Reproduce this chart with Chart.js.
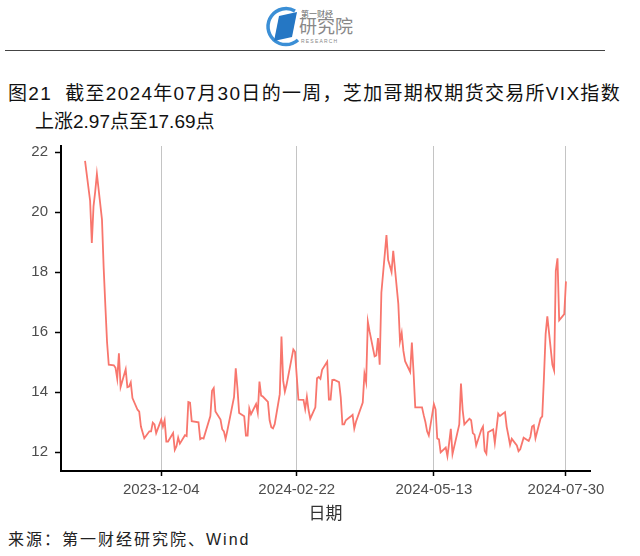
<!DOCTYPE html>
<html>
<head>
<meta charset="utf-8">
<script src="https://cdn.jsdelivr.net/npm/chart.js@4"></script>
<style>
  body { margin: 0; width: 640px; height: 556px; background: #fff; position: relative; overflow: hidden;
         font-family: "Liberation Sans", "Noto Sans CJK SC", sans-serif; }
  .abs { position: absolute; white-space: nowrap; }
  #rule { left: 5px; top: 50px; width: 600px; height: 0; border-top: 1.5px solid #444; }
  .title { font-size: 19px; color: #111; line-height: 24px; }
  #src { left: 8px; top: 530px; font-size: 16px; color: #222; letter-spacing: 2px; line-height: 20px; }
  #chartBox { left: 0; top: 130px; width: 640px; height: 400px; }
</style>
</head>
<body>
<div class="abs" style="left:264px;top:5px;">
  <svg width="40" height="44" viewBox="0 0 40 44">
    <path d="M31 6 A18 18 0 1 0 34 35" fill="none" stroke="#3b8fd6" stroke-width="3.5"/>
    <path d="M15 11 L33 7 L28 32 L10 36 Z" fill="#2577c4"/>
  </svg>
</div>
<div class="abs" style="left:301px;top:8px;font-size:8px;color:#666;">第一财经</div>
<div class="abs" style="left:299px;top:17px;font-size:18px;color:#888;line-height:20px;">研究院</div>
<div class="abs" style="left:301px;top:38px;font-size:5px;color:#888;letter-spacing:1.2px;">RESEARCH</div>
<div id="rule" class="abs"></div>
<div class="abs title" style="left:8px;top:82px;letter-spacing:1.3px;">图21&nbsp;&nbsp;截至2024年07月30日的一周，芝加哥期权期货交易所VIX指数</div>
<div class="abs title" style="left:35px;top:110px;">上涨2.97点至17.69点</div>
<div id="chartBox" class="abs"><canvas id="c" width="640" height="400"></canvas></div>
<div id="src" class="abs">来源：第一财经研究院、Wind</div>
<script>
const dates = [
  '2023-10-20','2023-10-23','2023-10-24','2023-10-25','2023-10-26','2023-10-27','2023-10-30','2023-10-31',
  '2023-11-01','2023-11-02','2023-11-03','2023-11-06','2023-11-07','2023-11-08','2023-11-09','2023-11-10',
  '2023-11-13','2023-11-14','2023-11-15','2023-11-16','2023-11-17','2023-11-20','2023-11-21','2023-11-22',
  '2023-11-24','2023-11-27','2023-11-28','2023-11-29','2023-11-30','2023-12-01','2023-12-04','2023-12-05',
  '2023-12-06','2023-12-07','2023-12-08','2023-12-11','2023-12-12','2023-12-13','2023-12-14','2023-12-15',
  '2023-12-18','2023-12-19','2023-12-20','2023-12-21','2023-12-22','2023-12-26','2023-12-27','2023-12-28',
  '2023-12-29','2024-01-02','2024-01-03','2024-01-04','2024-01-05','2024-01-08','2024-01-09','2024-01-10',
  '2024-01-11','2024-01-12','2024-01-16','2024-01-17','2024-01-18','2024-01-19','2024-01-22','2024-01-23',
  '2024-01-24','2024-01-25','2024-01-26','2024-01-29','2024-01-30','2024-01-31','2024-02-01','2024-02-02',
  '2024-02-05','2024-02-06','2024-02-07','2024-02-08','2024-02-09','2024-02-12','2024-02-13','2024-02-14',
  '2024-02-15','2024-02-16','2024-02-20','2024-02-21','2024-02-22','2024-02-23','2024-02-26','2024-02-27',
  '2024-02-28','2024-02-29','2024-03-01','2024-03-04','2024-03-05','2024-03-06','2024-03-07','2024-03-08',
  '2024-03-11','2024-03-12','2024-03-13','2024-03-14','2024-03-15','2024-03-18','2024-03-19','2024-03-20',
  '2024-03-21','2024-03-22','2024-03-25','2024-03-26','2024-03-27','2024-03-28','2024-04-01','2024-04-02',
  '2024-04-03','2024-04-04','2024-04-05','2024-04-08','2024-04-09','2024-04-10','2024-04-11','2024-04-12',
  '2024-04-15','2024-04-16','2024-04-17','2024-04-18','2024-04-19','2024-04-22','2024-04-23','2024-04-24',
  '2024-04-25','2024-04-26','2024-04-29','2024-04-30','2024-05-01','2024-05-02','2024-05-03','2024-05-06',
  '2024-05-07','2024-05-08','2024-05-09','2024-05-10','2024-05-13','2024-05-14','2024-05-15','2024-05-16',
  '2024-05-17','2024-05-20','2024-05-21','2024-05-22','2024-05-23','2024-05-24','2024-05-28','2024-05-29',
  '2024-05-30','2024-05-31','2024-06-03','2024-06-04','2024-06-05','2024-06-06','2024-06-07','2024-06-10',
  '2024-06-11','2024-06-12','2024-06-13','2024-06-14','2024-06-17','2024-06-18','2024-06-20','2024-06-21',
  '2024-06-24','2024-06-25','2024-06-26','2024-06-27','2024-06-28','2024-07-01','2024-07-02','2024-07-03',
  '2024-07-05','2024-07-08','2024-07-09','2024-07-10','2024-07-11','2024-07-12','2024-07-15','2024-07-16',
  '2024-07-17','2024-07-18','2024-07-19','2024-07-22','2024-07-23','2024-07-24','2024-07-25','2024-07-26',
  '2024-07-29','2024-07-30'
];
const vix = [
  21.71,20.37,18.97,20.19,20.68,21.27,19.75,18.14,
  16.87,15.66,14.91,14.89,14.81,14.45,15.29,14.17,
  14.76,14.16,14.18,14.32,13.80,13.41,13.35,12.85,
  12.46,12.69,12.69,12.98,12.92,12.63,13.08,12.85,
  13.06,12.35,12.35,12.63,12.07,12.19,12.48,12.28,
  12.56,12.53,13.67,13.65,13.03,12.99,12.43,12.47,
  12.45,13.20,14.04,14.13,13.35,13.08,12.76,12.69,
  12.44,12.70,13.84,14.79,14.13,13.30,13.19,12.55,
  12.55,13.45,13.26,13.60,13.31,14.35,13.88,13.85,
  13.67,13.06,12.83,12.79,12.93,13.93,15.85,14.38,
  14.01,14.24,15.42,15.34,14.54,13.75,13.74,13.43,
  13.84,13.40,13.11,13.49,14.46,14.50,14.44,14.74,
  15.01,13.75,13.75,14.40,14.41,14.33,13.82,12.92,
  12.92,13.06,13.19,13.24,12.78,13.01,13.65,14.61,
  14.33,16.35,16.03,15.19,15.22,15.80,14.91,17.31,
  19.23,18.40,18.21,18.00,18.71,16.94,15.69,15.97,
  15.37,15.03,14.67,15.65,14.66,13.49,13.49,13.49,
  13.23,13.00,12.69,12.55,13.60,13.42,12.45,12.42,
  11.99,12.15,11.86,12.29,12.77,11.93,12.92,14.28,
  13.40,12.92,13.11,13.06,12.63,12.58,12.22,12.74,
  12.85,12.04,11.94,12.66,12.75,12.30,13.28,13.20,
  13.33,12.84,12.55,12.24,12.44,12.22,12.03,12.09,
  12.48,12.37,12.51,12.85,12.89,12.46,13.12,13.19,
  14.48,15.93,16.52,14.91,14.72,18.04,18.46,16.39,
  16.60,17.69
];
const xTickDates = ['2023-12-04', '2024-02-22', '2024-05-13', '2024-07-30'];
const yTicks = [12, 14, 16, 18, 20, 22];

const DAY = 86400000;
const toDay = s => Date.parse(s + 'T00:00:00Z') / DAY;
const fromDay = d => new Date(d * DAY).toISOString().slice(0, 10);

const pts = dates.map((d, i) => ({ x: toDay(d), y: vix[i] }));
const x0 = toDay(dates[0]), x1 = toDay(dates[dates.length - 1]);
const xPad = (x1 - x0) * 0.05;
const yMin = Math.min(...vix), yMax = Math.max(...vix);
const yPad = (yMax - yMin) * 0.05;

const tickFont = { family: '"Liberation Sans", Arial, sans-serif', size: 15 };

new Chart(document.getElementById('c'), {
  type: 'line',
  data: { datasets: [{ data: pts, borderColor: '#F8766D', borderWidth: 1.8, pointRadius: 0, tension: 0, fill: false }] },
  options: {
    responsive: false,
    animation: false,
    layout: { padding: { top: 16, right: 50, left: 0, bottom: 0 } },
    plugins: { legend: { display: false }, tooltip: { enabled: false } },
    scales: {
      x: {
        type: 'linear',
        min: x0 - xPad,
        max: x1 + xPad,
        afterBuildTicks: s => { s.ticks = xTickDates.map(d => ({ value: toDay(d) })); },
        afterFit: s => { s.height = 59; },
        ticks: { color: '#4d4d4d', font: tickFont, padding: 5, maxRotation: 0, autoSkip: false,
                 callback: v => fromDay(v) },
        grid: { color: '#c4c4c4', lineWidth: 1, tickColor: '#000', tickLength: 5, tickWidth: 1.5 },
        border: { color: '#000', width: 2 },
        title: { display: true, text: '日期', color: '#333',
                 font: { family: '"Noto Sans CJK SC", sans-serif', size: 17 }, padding: { top: 0, bottom: 7 } }
      },
      y: {
        min: yMin - yPad,
        max: yMax + yPad,
        afterBuildTicks: s => { s.ticks = yTicks.map(v => ({ value: v })); },
        afterFit: s => { s.width = 61; },
        ticks: { color: '#4d4d4d', font: tickFont, padding: 7 },
        grid: { drawOnChartArea: false, tickColor: '#000', tickLength: 6, tickWidth: 1.5 },
        border: { color: '#000', width: 2 }
      }
    }
  }
});
</script>
</body>
</html>
